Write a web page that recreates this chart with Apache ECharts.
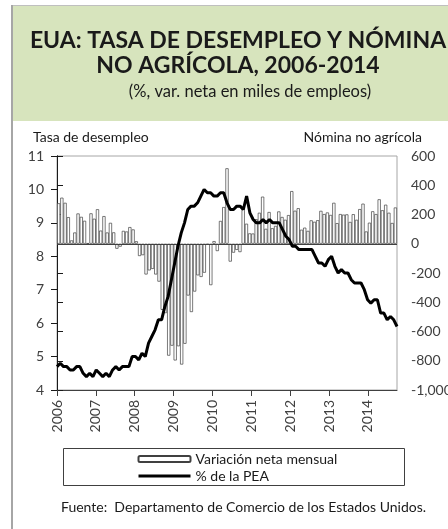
<!DOCTYPE html>
<html>
<head>
<meta charset="utf-8">
<script src="https://cdn.jsdelivr.net/npm/echarts@6/dist/echarts.min.js"></script>
<style>
  html, body { margin: 0; padding: 0; background: #fff; }
  #chart { width: 448px; height: 529px; }
</style>
</head>
<body>
<div id="chart"></div>
<script>
// etiquetas del eje x (un tick cada 12 meses, enero 2006 - septiembre 2014)
const years = ['2006', '2007', '2008', '2009', '2010', '2011', '2012', '2013', '2014'];

// variación neta mensual de la nómina no agrícola (miles de empleos)
const nomina = [
  277, 315, 280, 182, 23, 77, 207, 184, 157, 4, 208, 171,
  236, 90, 189, 77, 143, 78, -34, -20, 88, 84, 114, 98,
  17, -84, -78, -210, -182, -172, -210, -259, -452, -474, -765, -697,
  -798, -701, -826, -684, -354, -467, -327, -216, -227, -198, -6, -283,
  18, -50, 156, 251, 516, -122, -61, -42, -57, 241, 137, 71,
  70, 168, 212, 322, 102, 217, 106, 122, 221, 183, 164, 196,
  360, 226, 243, 96, 110, 88, 160, 150, 161, 225, 203, 214,
  197, 280, 141, 203, 199, 201, 149, 202, 164, 237, 274, 84,
  144, 222, 203, 304, 229, 267, 212, 142, 248
];

// tasa de desempleo (% de la PEA)
const desempleo = [
  4.7, 4.8, 4.7, 4.7, 4.6, 4.6, 4.7, 4.7, 4.5, 4.4, 4.5, 4.4,
  4.6, 4.5, 4.4, 4.5, 4.4, 4.6, 4.7, 4.6, 4.7, 4.7, 4.7, 5.0,
  5.0, 4.9, 5.1, 5.0, 5.4, 5.6, 5.8, 6.1, 6.1, 6.5, 6.8, 7.3,
  7.8, 8.3, 8.7, 9.0, 9.4, 9.5, 9.5, 9.6, 9.8, 10.0, 9.9, 9.9,
  9.8, 9.8, 9.9, 9.9, 9.6, 9.4, 9.4, 9.5, 9.5, 9.4, 9.8, 9.3,
  9.1, 9.0, 9.0, 9.1, 9.0, 9.1, 9.0, 9.0, 9.0, 8.8, 8.6, 8.5,
  8.3, 8.3, 8.2, 8.2, 8.2, 8.2, 8.2, 8.0, 7.8, 7.8, 7.7, 7.9,
  8.0, 7.7, 7.5, 7.6, 7.5, 7.5, 7.3, 7.2, 7.2, 7.2, 7.0, 6.7,
  6.6, 6.7, 6.7, 6.3, 6.3, 6.1, 6.2, 6.1, 5.9
];

const font = 'Lato';
const n = nomina.length;
const chart = echarts.init(document.getElementById('chart'));

const option = {
  animation: false,
  textStyle: { fontFamily: font },
  title: [
    {
      text: 'EUA: TASA DE DESEMPLEO Y NÓMINA\nNO AGRÍCOLA, 2006-2014',
      left: 238, top: 28, textAlign: 'center', padding: 0,
      textStyle: { fontFamily: font, fontSize: 23, fontWeight: 'bold', color: '#1a1a1a', lineHeight: 25 }
    },
    {
      text: '(%, var. neta en miles de empleos)',
      left: 250, top: 82, textAlign: 'center', padding: 0,
      textStyle: { fontFamily: font, fontSize: 16.5, fontWeight: 'normal', color: '#1a1a1a', lineHeight: 20 }
    }
  ],
  graphic: [
    { type: 'rect', z: -10, shape: { x: 13, y: 6, width: 440, height: 115 }, style: { fill: '#d7e4bd' } },
    { type: 'line', z: -5, shape: { x1: 12, y1: 5.5, x2: 448, y2: 5.5 }, style: { stroke: '#bfbfbf', lineWidth: 1 } },
    { type: 'line', z: -5, shape: { x1: 12, y1: 5, x2: 12, y2: 529 }, style: { stroke: '#a6a6a6', lineWidth: 2 } },
    { type: 'rect', shape: { x: 63.5, y: 448.5, width: 341, height: 37 }, style: { fill: 'none', stroke: '#404040', lineWidth: 1 } },
    { type: 'text', x: 33, y: 137, style: { text: 'Tasa de desempleo', font: '14px Lato', fill: '#1a1a1a', verticalAlign: 'middle' } },
    { type: 'text', x: 422, y: 137, style: { text: 'Nómina no agrícola', font: '14px Lato', fill: '#1a1a1a', align: 'right', verticalAlign: 'middle' } },
    {
      type: 'text', x: 61, y: 507,
      style: { text: 'Fuente:  Departamento de Comercio de los Estados Unidos.', font: '14px Lato', fill: '#1a1a1a', verticalAlign: 'middle' }
    }
  ],
  legend: {
    orient: 'vertical',
    left: 132,
    top: 447,
    itemWidth: 52,
    itemHeight: 6,
    itemGap: 3,
    textStyle: { fontFamily: font, fontSize: 14, color: '#1a1a1a' },
    data: [
      { name: 'Variación neta mensual' },
      { name: '% de la PEA', itemStyle: { opacity: 0 }, lineStyle: { color: '#000', width: 3, opacity: 1 } }
    ]
  },
  grid: {
    left: 57, right: 51, top: 156, bottom: 139,
    outerBoundsMode: 'none',
    show: true, borderColor: '#a6a6a6', borderWidth: 1, backgroundColor: 'transparent'
  },
  xAxis: [
    {
      type: 'value', min: 0, max: n, interval: 12,
      splitLine: { show: false },
      axisLine: { onZero: false, lineStyle: { color: '#404040', width: 1 } },
      axisTick: { length: 6, lineStyle: { color: '#404040' } },
      axisLabel: {
        rotate: 90, margin: 10, fontSize: 14, color: '#404040', showMaxLabel: false,
        formatter: v => (v % 12 === 0 ? years[v / 12] : '')
      }
    },
    { type: 'value', min: 0, max: n - 1, show: false }
  ],
  yAxis: [
    {
      type: 'value', position: 'left', min: 4, max: 11, interval: 1,
      splitLine: { show: false },
      axisLine: { show: true, lineStyle: { color: '#1a1a1a', width: 1 } },
      axisTick: { show: true, length: 6, lineStyle: { color: '#1a1a1a' } },
      axisLabel: { margin: 13, fontSize: 14, color: '#404040' }
    },
    {
      type: 'value', position: 'right', min: -1000, max: 600, interval: 200,
      splitLine: { show: false },
      axisLine: { show: true, lineStyle: { color: '#1a1a1a', width: 1 } },
      axisTick: { show: true, length: 6, lineStyle: { color: '#1a1a1a' } },
      axisLabel: {
        margin: 14, fontSize: 14, color: '#404040',
        formatter: v => v.toLocaleString('en-US')
      }
    }
  ],
  series: [
    {
      name: 'Variación neta mensual',
      type: 'bar',
      xAxisIndex: 0,
      yAxisIndex: 1,
      barWidth: 3.2,
      itemStyle: { color: '#ffffff', borderColor: '#404040', borderWidth: 0.7 },
      data: nomina.map((v, i) => [i + 0.5, v]),
      markLine: {
        silent: true, symbol: 'none', label: { show: false },
        lineStyle: { color: '#404040', width: 1, type: 'solid' },
        data: [{ yAxis: 0 }]
      }
    },
    {
      name: '% de la PEA',
      type: 'line',
      xAxisIndex: 1,
      yAxisIndex: 0,
      symbol: 'none',
      z: 5,
      lineStyle: { color: '#000', width: 3 },
      itemStyle: { color: '#000' },
      data: desempleo.map((v, i) => [i, v])
    }
  ]
};

chart.setOption(option);
</script>
</body>
</html>
